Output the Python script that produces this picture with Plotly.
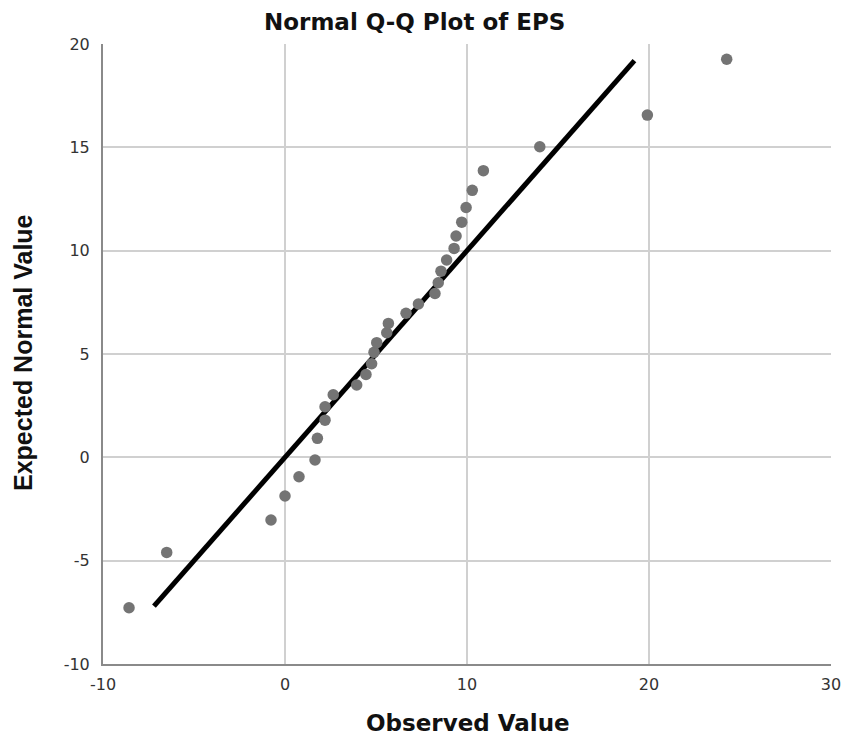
import plotly.graph_objects as go

observed = [-8.57, -6.5, -0.77, 0.0, 0.77, 1.65, 1.78, 2.2, 2.2, 2.65, 3.94, 4.45,
            4.76, 4.89, 5.04, 5.59, 5.68, 6.65, 7.33, 8.24, 8.42, 8.57, 8.88, 9.29,
            9.40, 9.71, 9.95, 10.29, 10.9, 14.0, 19.91, 24.27]
expected = [-7.28, -4.6, -3.03, -1.87, -0.94, -0.13, 0.92, 1.80, 2.45, 3.03, 3.50, 4.01,
            4.53, 5.08, 5.55, 6.03, 6.48, 6.97, 7.42, 7.93, 8.45, 9.01, 9.55, 10.11,
            10.71, 11.38, 12.09, 12.92, 13.87, 15.03, 16.56, 19.26]
line_x = [-7.2, 19.2]
line_y = [-7.2, 19.2]
x_ticks = [-10, 0, 10, 20, 30]
y_ticks = [-10, -5, 0, 5, 10, 15, 20]

fig = go.Figure()
fig.add_trace(go.Scatter(x=line_x, y=line_y, mode="lines",
                         line=dict(color="black", width=5), showlegend=False))
fig.add_trace(go.Scatter(x=observed, y=expected, mode="markers",
                         marker=dict(color="#747474", size=11.5, line=dict(width=0)),
                         showlegend=False))

wide = "DejaVu Sans, Verdana, sans-serif"
arial = "Liberation Sans, Arial, sans-serif"
W, H = 842, 740
L, R, T, B = 103, 11, 44, 76
fig.update_layout(
    width=W, height=H,
    margin=dict(l=L, r=R, t=T, b=B),
    paper_bgcolor="white", plot_bgcolor="white",
    xaxis=dict(range=[-10, 30], tickvals=x_ticks, ticktext=[str(v) for v in x_ticks],
               showgrid=True, gridcolor="#d0d0d0", gridwidth=2, zeroline=False,
               showline=True, linecolor="#8a8a8a", linewidth=2, ticks="",
               automargin=False, ticklabelstandoff=5,
               tickfont=dict(family=wide, size=16, color="#333")),
    yaxis=dict(range=[-10, 20], tickvals=y_ticks, ticktext=[str(v) for v in y_ticks],
               showgrid=True, gridcolor="#d0d0d0", gridwidth=2, zeroline=False,
               showline=True, linecolor="#8a8a8a", linewidth=2, ticks="",
               automargin=False, ticklabelstandoff=8,
               tickfont=dict(family=wide, size=16, color="#333")),
    annotations=[
        dict(text="<b>Normal Q-Q Plot of EPS</b>", xref="paper", yref="paper",
             x=(414 - L) / (W - L - R), y=1 + (T - 22) / (H - T - B),
             xanchor="center", yanchor="middle", showarrow=False,
             font=dict(family=wide, size=23, color="#111")),
        dict(text="<b>Observed Value</b>", xref="paper", yref="paper",
             x=(468 - L) / (W - L - R), y=-(723 - (H - B)) / (H - T - B),
             xanchor="center", yanchor="middle", showarrow=False,
             font=dict(family=wide, size=23, color="#111")),
        dict(text="<b>Expected Normal Value</b>", xref="paper", yref="paper",
             x=-(L - 23) / (W - L - R), y=(H - B - 353) / (H - T - B),
             xanchor="center", yanchor="middle", showarrow=False, textangle=-90,
             font=dict(family=arial, size=25, color="#111")),
    ],
)
fig.write_html("out.html", config={"displayModeBar": False},
               post_script="document.body.style.margin='0';document.body.style.overflow='hidden';")
